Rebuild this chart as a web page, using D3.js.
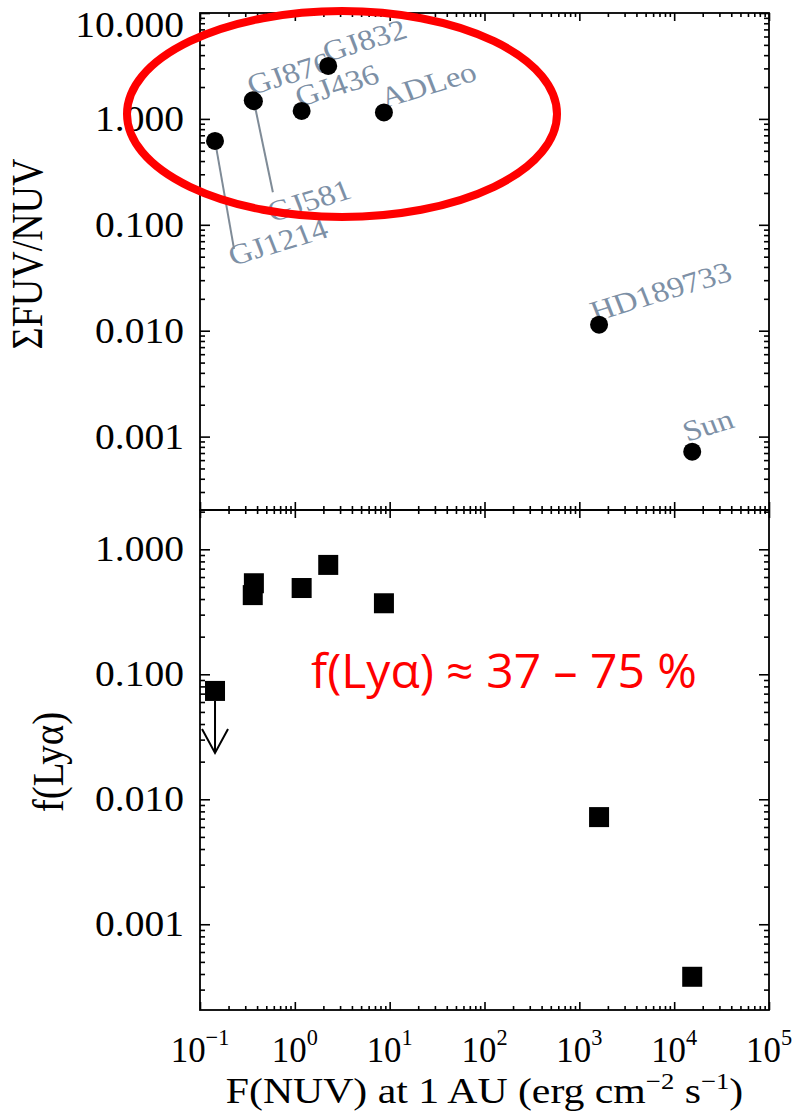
<!DOCTYPE html>
<html><head><meta charset="utf-8">
<script src="https://cdn.jsdelivr.net/npm/d3@7"></script>
<style>html,body{margin:0;padding:0;background:#fff}svg{display:block}</style>
</head><body><svg id="c" width="797" height="1117"></svg>
<script>
// ---------------- data ----------------
const stars        = ["GJ1214","GJ581","GJ876","GJ436","GJ832","ADLeo","HD189733","Sun"];
const fNUV         = [0.144, 0.37, 0.36, 1.18, 2.25, 8.7, 1615, 15500];
const fuvNuvRatio  = [0.62, 1.47, 1.50, 1.19, 3.16, 1.15, 0.0114, 0.00072];
const fLya         = [0.0736, 0.535, 0.43, 0.49, 0.75, 0.37, 0.0072, 0.00038];
const fLyaUpper    = [true, false, false, false, false, false, false, false];
const xTickExps    = [-1, 0, 1, 2, 3, 4, 5];
const topYTicks    = [10, 1, 0.1, 0.01, 0.001];
const topYLabels   = ["10.000","1.000","0.100","0.010","0.001"];
const botYTicks    = [1, 0.1, 0.01, 0.001];
const botYLabels   = ["1.000","0.100","0.010","0.001"];
const annotation   = "f(Lyα) ≈ 37 – 75 %";

// label placement (pixel offsets from the point)
const labelDx = [18, 18, -1, -2, -1, 1, -4, -5];
const labelDy = [125, 121, -5, -4, -4, -4.5, -3, -10];
const leaderDx = [19, 19, null, null, null, null, null, null];
const leaderDy = [108, 91, null, null, null, null, null, null];

// ---------------- layout ----------------
const L = 200, R = 769, T1 = 13, B1 = 510, T2 = 510, B2 = 1010;
const svg = d3.select("#c");
const x  = d3.scaleLog().domain([0.1, 1e5]).range([L, R]);
const y1 = d3.scaleLog().domain([Math.pow(10, -3.693), 10]).range([B1, T1]);
const y2 = d3.scaleLog().domain([Math.pow(10, -3.686), Math.pow(10, 0.3144)]).range([B2, T2]);

const serif = "'Liberation Serif','Times New Roman',Times,Tinos,'Nimbus Roman','Nimbus Roman No9 L','FreeSerif','Noto Serif',serif";
const K = (function () {
  const t = svg.append("text").attr("font-family", serif).attr("font-size", 100).text("0000000000");
  const w = t.node().getComputedTextLength(); t.remove();
  return w > 0 ? 500 / w : 1;
})();
const FS = K < 0.95 ? 0.93 : 1;
const HX = K / FS;

function minorVals(scale) {
  const [a, b] = scale.domain().map(Math.log10);
  const lo = Math.min(a, b), hi = Math.max(a, b), out = [];
  for (let e = Math.floor(lo); e <= Math.ceil(hi); e++)
    for (let m = 2; m <= 9; m++) {
      const v = m * Math.pow(10, e), lv = Math.log10(v);
      if (lv >= lo && lv <= hi) out.push(v);
    }
  return out;
}
function majorVals(scale) {
  const [a, b] = scale.domain().map(Math.log10);
  const lo = Math.min(a, b), hi = Math.max(a, b), out = [];
  for (let e = Math.ceil(lo - 1e-9); e <= Math.floor(hi + 1e-9); e++) out.push(Math.pow(10, e));
  return out;
}
function ticks(axisFn, scale, vals, size, tr) {
  const g = svg.append("g").attr("transform", tr)
    .call(axisFn(scale).tickValues(vals).tickSize(size).tickSizeOuter(0).tickFormat(""));
  g.select(".domain").remove();
  g.selectAll("line").attr("stroke", "#000").attr("stroke-width", 1.6);
}

[[d3.axisTop, T1], [d3.axisBottom, B1], [d3.axisTop, T2], [d3.axisBottom, B2]].forEach(([fn, yy]) => {
  ticks(fn, x, majorVals(x), -8, `translate(0,${yy})`);
  ticks(fn, x, minorVals(x), -4, `translate(0,${yy})`);
});
[y1, y2].forEach(s => {
  ticks(d3.axisLeft, s, majorVals(s), -10, `translate(${L},0)`);
  ticks(d3.axisLeft, s, minorVals(s), -5, `translate(${L},0)`);
  ticks(d3.axisRight, s, majorVals(s), -10, `translate(${R},0)`);
  ticks(d3.axisRight, s, minorVals(s), -5, `translate(${R},0)`);
});
[[T1, B1], [T2, B2]].forEach(([t, b]) => {
  svg.append("rect").attr("x", L).attr("y", t).attr("width", R - L).attr("height", b - t)
    .attr("fill", "none").attr("stroke", "#000").attr("stroke-width", 1.8);
});

// y tick labels
function yLabels(scale, vals, labs, minBase) {
  svg.append("g").selectAll("text").data(vals).join("text")
    .attr("transform", d => `translate(184,${Math.max(scale(d) + 12, minBase)}) scale(${1.13 * HX},1)`)
    .attr("text-anchor", "end").attr("font-family", serif).attr("font-size", 35 * FS)
    .attr("fill", "#000").text((d, i) => labs[i]);
}
yLabels(y1, topYTicks, topYLabels, 37);
yLabels(y2, botYTicks, botYLabels, 0);

// x tick labels
const xl = svg.append("g").selectAll("text").data(xTickExps).join("text")
  .attr("transform", d => `translate(${x(Math.pow(10, d))},1062) scale(${0.97 * HX},1)`)
  .attr("text-anchor", "middle").attr("font-family", serif).attr("font-size", 36 * FS).attr("fill", "#000");
xl.append("tspan").text("10");
xl.append("tspan").attr("font-size", 23 * FS).attr("dy", -17).text(d => String(d).replace("-", "\u2212"));

// axis titles
const xt = svg.append("text").attr("transform", `translate(${(L + R) / 2},1103) scale(${1.16 * HX},1)`)
  .attr("text-anchor", "middle").attr("font-family", serif).attr("font-size", 36 * FS).attr("fill", "#000");
xt.append("tspan").text("F(NUV) at 1 AU (erg cm");
xt.append("tspan").attr("font-size", 23 * FS).attr("dy", -14).text("\u22122");
xt.append("tspan").attr("dy", 14).text(" s");
xt.append("tspan").attr("font-size", 23 * FS).attr("dy", -14).text("\u22121");
xt.append("tspan").attr("dy", 14).text(")");

svg.append("text").attr("transform", `translate(42,254) scale(1.15,1) rotate(-90) scale(${HX},1)`)
  .attr("text-anchor", "middle").attr("font-family", serif).attr("font-size", 38 * FS).attr("fill", "#000")
  .text("ΣFUV/NUV");
svg.append("text").attr("transform", `translate(63,762) scale(1.12,1) rotate(-90) scale(${HX},1)`)
  .attr("text-anchor", "middle").attr("font-family", serif).attr("font-size", 39 * FS).attr("fill", "#000")
  .text("f(Lyα)");

// ---------------- top panel marks ----------------
const idx = d3.range(stars.length);
svg.append("g").selectAll("text").data(idx).join("text")
  .attr("transform", i => `translate(${x(fNUV[i]) + labelDx[i]},${y1(fuvNuvRatio[i]) + labelDy[i]}) scale(1.14,1) rotate(-19) scale(${HX},1)`)
  .attr("font-family", serif).attr("font-size", 29 * FS).attr("fill", "#7d90a6")
  .text(i => stars[i]);
svg.append("g").selectAll("line").data(idx.filter(i => leaderDx[i] !== null)).join("line")
  .attr("x1", i => x(fNUV[i])).attr("y1", i => y1(fuvNuvRatio[i]))
  .attr("x2", i => x(fNUV[i]) + leaderDx[i]).attr("y2", i => y1(fuvNuvRatio[i]) + leaderDy[i])
  .attr("stroke", "#7f8b97").attr("stroke-width", 2);
svg.append("g").selectAll("circle").data(idx).join("circle")
  .attr("cx", i => x(fNUV[i])).attr("cy", i => y1(fuvNuvRatio[i])).attr("r", 9).attr("fill", "#000");

// ---------------- bottom panel marks ----------------
svg.append("g").selectAll("rect").data(idx).join("rect")
  .attr("x", i => x(fNUV[i]) - 10).attr("y", i => y2(fLya[i]) - 10)
  .attr("width", 20).attr("height", 20).attr("fill", "#000");
svg.append("g").selectAll("path").data(idx.filter(i => fLyaUpper[i])).join("path")
  .attr("d", i => {
    const px = x(fNUV[i]), py = y2(fLya[i]) + 10, tip = py + 52;
    return `M${px},${py}L${px},${tip}M${px - 13},${tip - 24}L${px},${tip}L${px + 13},${tip - 24}`;
  })
  .attr("fill", "none").attr("stroke", "#000").attr("stroke-width", 2);

// ---------------- annotations ----------------
svg.append("ellipse").attr("cx", 342).attr("cy", 114).attr("rx", 215).attr("ry", 103)
  .attr("fill", "none").attr("stroke", "#ff0000").attr("stroke-width", 8);
svg.append("text").attr("x", 311).attr("y", 688)
  .attr("font-family", "'Open Sans','Noto Sans',sans-serif").attr("font-size", 47)
  .attr("textLength", 386).attr("lengthAdjust", "spacingAndGlyphs")
  .attr("fill", "#ff0000").text(annotation);
</script></body></html>
